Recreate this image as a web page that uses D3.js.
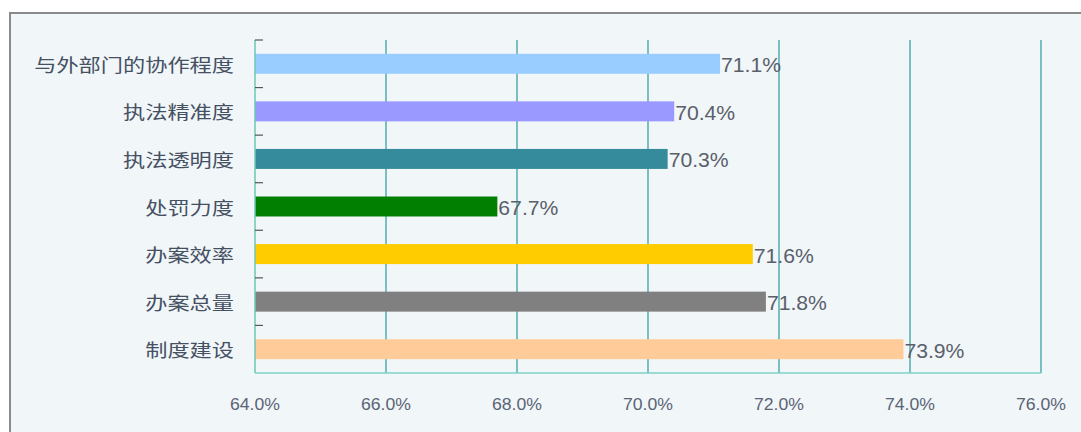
<!DOCTYPE html>
<html>
<head>
<meta charset="utf-8">
<script src="https://cdn.jsdelivr.net/npm/d3@7"></script>
<style>
  html, body { margin: 0; padding: 0; background: #fff; }
  #chart-container { width: 1081px; height: 432px; }
</style>
</head>
<body>
<div id="chart-container"></div>
<script>
// --- Data ---
const categories = [
  "与外部门的协作程度",
  "执法精准度",
  "执法透明度",
  "处罚力度",
  "办案效率",
  "办案总量",
  "制度建设",
];
const values = [71.1, 70.4, 70.3, 67.7, 71.6, 71.8, 73.9];
const barColors = ["#99ccff", "#9999ff", "#358a9c", "#007f00", "#ffcc00", "#808080", "#ffcc99"];
const xTicks = [64, 66, 68, 70, 72, 74, 76];

// --- Chart Dimensions ---
const width = 1081;
const height = 432;
const plot = { left: 255, right: 1041, top: 40, bottom: 373 };

const svg = d3
  .select("#chart-container")
  .append("svg")
  .attr("width", width)
  .attr("height", height);

// background panel with grey border on top/left
svg.append("rect")
  .attr("x", 10).attr("y", 13)
  .attr("width", width).attr("height", height)
  .attr("fill", "#f1f6f9")
  .attr("stroke", "#8a8a8a")
  .attr("stroke-width", 2);

const x = d3.scaleLinear().domain([64, 76]).range([plot.left, plot.right]);
const y = d3.scaleBand().domain(categories).range([plot.top, plot.bottom]).paddingInner(0.58).paddingOuter(0.29);

// gridlines
svg.append("g")
  .selectAll("line")
  .data(xTicks.slice(1))
  .join("line")
  .attr("x1", (d) => x(d)).attr("x2", (d) => x(d))
  .attr("y1", plot.top).attr("y2", plot.bottom)
  .attr("stroke", "#2f9a9a")
  .attr("stroke-width", 1.2);

// bars
svg.append("g")
  .selectAll("rect")
  .data(values)
  .join("rect")
  .attr("x", x(64))
  .attr("y", (d, i) => y(categories[i]))
  .attr("width", (d) => x(d) - x(64))
  .attr("height", y.bandwidth())
  .attr("fill", (d, i) => barColors[i]);

// axes lines
svg.append("line")
  .attr("x1", plot.left).attr("x2", plot.left)
  .attr("y1", plot.top).attr("y2", plot.bottom)
  .attr("stroke", "#6cc7b4").attr("stroke-width", 1.5);
svg.append("line")
  .attr("x1", plot.left).attr("x2", plot.right)
  .attr("y1", plot.bottom).attr("y2", plot.bottom)
  .attr("stroke", "#7fd0c4").attr("stroke-width", 1.5);

// category boundary ticks
const step = (plot.bottom - plot.top) / categories.length;
svg.append("g")
  .selectAll("line")
  .data(d3.range(categories.length))
  .join("line")
  .attr("x1", plot.left).attr("x2", plot.left + 8)
  .attr("y1", (d) => plot.top + d * step)
  .attr("y2", (d) => plot.top + d * step)
  .attr("stroke", "#555").attr("stroke-width", 1.2);

// category labels (wide glyphs, as in the source image)
svg.append("g")
  .selectAll("text")
  .data(categories)
  .join("text")
  .attr("x", 234)
  .attr("y", (d) => y(d) + y.bandwidth() / 2)
  .attr("text-anchor", "end")
  .attr("dominant-baseline", "central")
  .attr("textLength", (d) => d.length * 22.2)
  .attr("lengthAdjust", "spacingAndGlyphs")
  .style("font-family", "'Noto Sans CJK SC', sans-serif")
  .style("font-size", "18px")
  .attr("fill", "#465063")
  .text((d) => d);

// value labels (tall, slightly condensed)
svg.append("g")
  .selectAll("text")
  .data(values)
  .join("text")
  .attr("x", (d) => x(d) + 1)
  .attr("y", (d, i) => y(categories[i]) + y.bandwidth() / 2 + 1)
  .attr("dominant-baseline", "central")
  .attr("textLength", 60)
  .attr("lengthAdjust", "spacingAndGlyphs")
  .style("font-family", "'Liberation Sans', sans-serif")
  .style("font-size", "21px")
  .attr("fill", "#5a606a")
  .text((d) => d.toFixed(1) + "%");

// x tick labels
svg.append("g")
  .selectAll("text")
  .data(xTicks)
  .join("text")
  .attr("x", (d) => x(d))
  .attr("y", 404)
  .attr("text-anchor", "middle")
  .attr("dominant-baseline", "central")
  .attr("textLength", 50)
  .attr("lengthAdjust", "spacingAndGlyphs")
  .style("font-family", "'Liberation Sans', sans-serif")
  .style("font-size", "16px")
  .attr("fill", "#5b6475")
  .text((d) => d.toFixed(1) + "%");
</script>
</body>
</html>
